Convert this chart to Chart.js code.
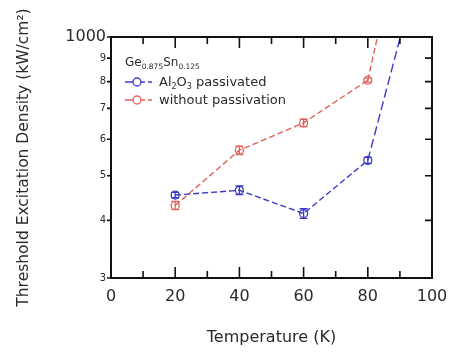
<!DOCTYPE html>
<html>
<head>
<meta charset="utf-8">
<script src="https://cdn.jsdelivr.net/npm/chart.js@4.4.0/dist/chart.umd.min.js"></script>
<style>
  html, body { margin: 0; padding: 0; background: #fff; }
  #wrap { width: 460px; height: 355px; }
</style>
</head>
<body>
<div id="wrap"><canvas id="chart" width="460" height="355"></canvas></div>
<script>
// valeurs
const temps = [20, 40, 60, 80];
const passivated = [454, 465, 414, 540];
const passivatedErr = [6, 10, 10, 8];
const unpassivated = [431, 568, 651, 806];
const unpassivatedErr = [9, 12, 12, 8];
// prolongement des courbes au-dela de 80 K (sort du cadre)
const passivatedTailT = [80, 91];
const passivatedTail = [540, 1054];
const unpassivatedTailT = [80, 84];
const unpassivatedTail = [806, 1074];

const yTicks = [300, 400, 500, 600, 700, 800, 900, 1000];
const xTicks = [0, 20, 40, 60, 80, 100];

const BLUE = '#3b3bc4';
const RED = '#e0635c';
const FONT = "'DejaVu Sans', Verdana, sans-serif";
const TXT = '#2a2a2a';

function pts(xs, ys) {
    return xs.map((x, i) => ({ x: x, y: ys[i] }));
}

// cadre, graduations, barres d'erreur et legende
const decor = {
    id: 'decor',
    afterDatasetsDraw(chart) {
        const ctx = chart.ctx;
        const a = chart.chartArea;
        const xs = chart.scales.x;
        const ys = chart.scales.y;
        ctx.save();

        // barres d'erreur
        const errSets = [[passivated, passivatedErr, BLUE], [unpassivated, unpassivatedErr, RED]];
        errSets.forEach(([vals, errs, col]) => {
            ctx.strokeStyle = col;
            ctx.lineWidth = 1.3;
            vals.forEach((v, i) => {
                const px = xs.getPixelForValue(temps[i]);
                const y1 = ys.getPixelForValue(v - errs[i]);
                const y2 = ys.getPixelForValue(v + errs[i]);
                ctx.beginPath();
                ctx.moveTo(px, y1); ctx.lineTo(px, y2);
                ctx.moveTo(px - 4, y1); ctx.lineTo(px + 4, y1);
                ctx.moveTo(px - 4, y2); ctx.lineTo(px + 4, y2);
                ctx.stroke();
            });
        });

        // cadre
        ctx.strokeStyle = '#111';
        ctx.lineWidth = 2;
        ctx.strokeRect(a.left, a.top, a.right - a.left, a.bottom - a.top);

        // graduations en x (haut et bas, vers l'interieur)
        ctx.lineWidth = 1.6;
        ctx.beginPath();
        for (let i = 0; i < xTicks.length; i++) {
            const px = xs.getPixelForValue(xTicks[i]);
            ctx.moveTo(px, a.bottom); ctx.lineTo(px, a.bottom - 11);
            ctx.moveTo(px, a.top); ctx.lineTo(px, a.top + 11);
            if (i < xTicks.length - 1) {
                const mx = xs.getPixelForValue((xTicks[i] + xTicks[i + 1]) / 2);
                ctx.moveTo(mx, a.bottom); ctx.lineTo(mx, a.bottom - 7);
                ctx.moveTo(mx, a.top); ctx.lineTo(mx, a.top + 7);
            }
        }
        // graduations en y
        yTicks.forEach(v => {
            const py = ys.getPixelForValue(v);
            ctx.moveTo(a.left - 4, py); ctx.lineTo(a.left, py);
            ctx.moveTo(a.right, py); ctx.lineTo(a.right - 7, py);
        });
        ctx.stroke();

        // legende
        const lx = a.left + 14;
        ctx.fillStyle = TXT;
        ctx.textBaseline = 'alphabetic';
        let x = lx;
        const ty = a.top + 29;
        const parts = [['Ge', 0], ['0.875', 1], ['Sn', 0], ['0.125', 1]];
        parts.forEach(([t, sub]) => {
            ctx.font = (sub ? '7.5px ' : '12px ') + FONT;
            ctx.fillText(t, x, ty + (sub ? 3 : 0));
            x += ctx.measureText(t).width;
        });

        const rows = [
            [BLUE, [['Al', 0], ['2', 1], ['O', 0], ['3', 1], [' passivated', 0]], a.top + 45],
            [RED, [['without passivation', 0]], a.top + 63]
        ];
        rows.forEach(([col, txt, cy]) => {
            ctx.strokeStyle = col;
            ctx.lineWidth = 1.3;
            ctx.beginPath();
            ctx.moveTo(lx, cy); ctx.lineTo(lx + 8, cy);
            ctx.moveTo(lx + 16, cy); ctx.lineTo(lx + 20, cy);
            ctx.moveTo(lx + 23, cy); ctx.lineTo(lx + 27, cy);
            ctx.stroke();
            ctx.beginPath();
            ctx.arc(lx + 12, cy, 4, 0, Math.PI * 2);
            ctx.stroke();
            let tx = lx + 34;
            ctx.fillStyle = TXT;
            txt.forEach(([t, sub]) => {
                ctx.font = (sub ? '8px ' : '13px ') + FONT;
                ctx.fillText(t, tx, cy + 4 + (sub ? 3 : 0));
                tx += ctx.measureText(t).width;
            });
        });
        ctx.restore();
    }
};

new Chart(document.getElementById('chart'), {
    type: 'scatter',
    data: {
        datasets: [
            {
                label: 'Al2O3 passivated',
                data: pts(temps, passivated),
                showLine: true,
                borderColor: BLUE,
                borderWidth: 1.4,
                borderDash: [6, 3],
                pointStyle: 'circle',
                pointRadius: 4,
                pointBorderWidth: 1.3,
                pointBackgroundColor: 'rgba(0,0,0,0)',
                pointBorderColor: BLUE
            },
            {
                label: 'without passivation',
                data: pts(temps, unpassivated),
                showLine: true,
                borderColor: RED,
                borderWidth: 1.4,
                borderDash: [6, 3],
                pointRadius: 4,
                pointBorderWidth: 1.3,
                pointBackgroundColor: 'rgba(0,0,0,0)',
                pointBorderColor: RED
            },
            {
                label: 'tail1',
                data: pts(passivatedTailT, passivatedTail),
                showLine: true,
                borderColor: BLUE,
                borderWidth: 1.4,
                borderDash: [9, 4],
                pointRadius: 0
            },
            {
                label: 'tail2',
                data: pts(unpassivatedTailT, unpassivatedTail),
                showLine: true,
                borderColor: RED,
                borderWidth: 1.4,
                borderDash: [6, 3],
                pointRadius: 0
            }
        ]
    },
    options: {
        responsive: false,
        animation: false,
        layout: { padding: { top: 37, right: 28, left: 0, bottom: 0 } },
        plugins: {
            legend: { display: false },
            tooltip: { enabled: false }
        },
        scales: {
            x: {
                type: 'linear',
                min: 0,
                max: 100,
                afterFit: s => { s.height = 77; },
                afterBuildTicks: s => { s.ticks = xTicks.map(v => ({ value: v })); },
                grid: { display: false, drawTicks: false },
                border: { display: false },
                ticks: {
                    padding: 9,
                    color: TXT,
                    font: { family: FONT, size: 16 }
                },
                title: {
                    display: true,
                    text: 'Temperature (K)',
                    color: TXT,
                    font: { family: FONT, size: 16 },
                    padding: { top: 0, bottom: 8 }
                }
            },
            y: {
                type: 'logarithmic',
                min: 300,
                max: 1000,
                afterFit: s => { s.width = 111; },
                afterBuildTicks: s => { s.ticks = yTicks.map(v => ({ value: v })); },
                grid: { display: false, drawTicks: false },
                border: { display: false },
                ticks: {
                    padding: 5,
                    color: TXT,
                    font: c => (c.tick && c.tick.value === 1000) ? { family: FONT, size: 16 } : { family: FONT, size: 10 },
                    callback: v => v === 1000 ? '1000' : String(v / 100)
                },
                title: {
                    display: true,
                    text: 'Threshold Excitation Density (kW/cm\u00B2)',
                    color: TXT,
                    font: { family: FONT, size: 15.5 },
                    padding: { top: 15, bottom: 0 }
                }
            }
        }
    },
    plugins: [decor]
});
</script>
</body>
</html>
